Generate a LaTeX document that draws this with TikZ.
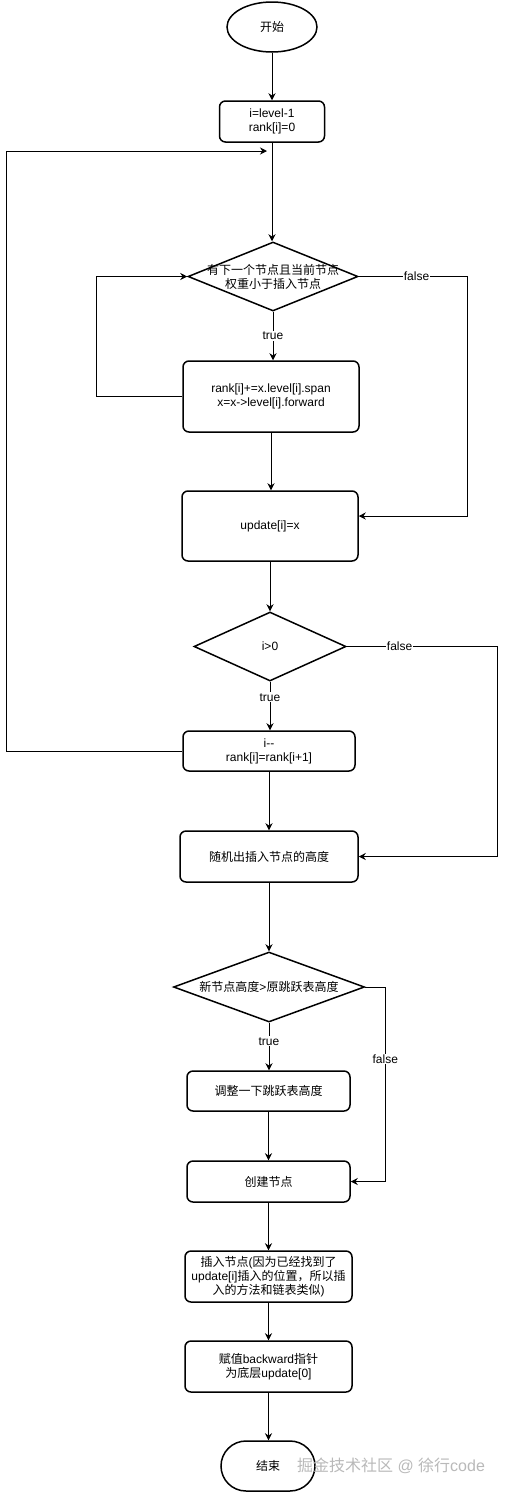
\documentclass[tikz,border=0pt]{standalone}
\usepackage{fontspec}
\setmainfont{Liberation Sans}
\newfontfamily\cjk{Noto Sans CJK SC}
\usepackage{tikz}
\usetikzlibrary{shapes.geometric, arrows.meta}

\newcommand{\zh}[1]{{\cjk #1}}

\tikzset{
  stepbox/.style={draw, line width=1.5pt, rounded corners=6pt, align=center, inner sep=0pt},
  decision/.style={draw, line width=1.5pt, diamond, inner sep=0pt, align=center},
  terminal/.style={draw, line width=1.5pt, align=center, inner sep=0pt},
  conn/.style={line width=0.9pt, -{Stealth[length=7pt,width=7pt]}},
  plain/.style={line width=0.9pt},
  lbl/.style={fill=white, inner sep=1pt}
}

\begin{document}
\begin{tikzpicture}[x=1pt,y=-1pt, every node/.style={font=\fontsize{12}{14}\selectfont}]

\useasboundingbox (0,0) rectangle (507,1492);

\node (start) at (272,27) [terminal, ellipse, minimum width=90pt, minimum height=50pt] {\zh{开始}};

\node (init) at (272,121.5) [stepbox, minimum width=105pt, minimum height=41pt] {i=level-1\\rank[i]=0};

\coordinate (loopin) at (267,151);

\node (d1) at (273,276.5) [decision, minimum width=170pt, minimum height=69pt] {};
\node (d1text) at (d1) [align=center] {\zh{有下一个节点且当前节点}\\\zh{权重小于插入节点}};

\node (walk) at (271,396.5) [stepbox, minimum width=176pt, minimum height=71pt] {rank[i]+=x.level[i].span\\x=x->level[i].forward};

\node (upd) at (270,526) [stepbox, minimum width=176pt, minimum height=70pt] {update[i]=x};

\node (d2) at (270,646.5) [decision, minimum width=152pt, minimum height=69pt] {i>0};

\node (dec) at (269,751) [stepbox, minimum width=172pt, minimum height=40pt] {i-{}-\\rank[i]=rank[i+1]};

\node (rnd) at (269,856.5) [stepbox, minimum width=178pt, minimum height=51pt] {\zh{随机出插入节点的高度}};

\node (d3) at (269,987) [decision, minimum width=191pt, minimum height=70pt] {};
\node (d3text) at (d3) {\zh{新节点高度}>\zh{原跳跃表高度}};

\node (adj) at (268.5,1091) [stepbox, minimum width=163pt, minimum height=40pt] {\zh{调整一下跳跃表高度}};

\node (mk) at (268.5,1181.5) [stepbox, minimum width=163pt, minimum height=41pt] {\zh{创建节点}};

\node (ins) at (268.5,1276.5) [stepbox, minimum width=167pt, minimum height=51pt] {\zh{插入节点}(\zh{因为已经找到了}\\update[i]\zh{插入的位置，所以插}\\\zh{入的方法和链表类似})};

\node (back) at (268.5,1366.5) [stepbox, minimum width=167pt, minimum height=51pt] {\zh{赋值}backward\zh{指针}\\\zh{为底层}update[0]};

\node (stop) at (268,1466) [terminal, rounded corners=25pt, minimum width=94pt, minimum height=50pt] {\zh{结束}};

\node (mark) at (391,1466) [text=gray!55, font=\fontsize{16}{18}\selectfont] {\zh{掘金技术社区} @ \zh{徐行}code};

% main line
\draw [conn] (start.south) -- (start.south |- init.north);
\draw [conn] (init.south) -- (init.south |- d1.north);
\draw [conn] (d1.south) -- node[lbl] {true} (d1.south |- walk.north);
\draw [conn] (walk.south) -- (walk.south |- upd.north);
\draw [conn] (upd.south) -- (upd.south |- d2.north);
\draw [conn] (d2.south) -- node[lbl, pos=0.32] {true} (d2.south |- dec.north);
\draw [conn] (dec.south) -- (dec.south |- rnd.north);
\draw [conn] (rnd.south) -- (rnd.south |- d3.north);
\draw [conn] (d3.south) -- node[lbl, pos=0.39] {true} (d3.south |- adj.north);
\draw [conn] (adj.south) -- (adj.south |- mk.north);
\draw [conn] (mk.south) -- (mk.south |- ins.north);
\draw [conn] (ins.south) -- (ins.south |- back.north);
\draw [conn] (back.south) -- (back.south |- stop.north);

% loops
\draw [conn] (walk.west) -- ++(-86,0) |- (d1.west);
\draw [conn] (dec.west) -- ++(-176,0) |- (loopin);

% false branches
\draw [conn] (d1.east) -- node[lbl, pos=0.53] {false} ++(109,0) |- ([yshift=10pt]upd.east);
\draw [conn] (d2.east) -- node[lbl, pos=0.35] {false} ++(151,0) |- (rnd.east);
\draw [plain] (d3.east) -- ++(20,0) coordinate (f3);
\draw [conn] (f3) -- node[lbl, pos=0.37] {false} (f3 |- mk.east) -- (mk.east);

\end{tikzpicture}
\end{document}
